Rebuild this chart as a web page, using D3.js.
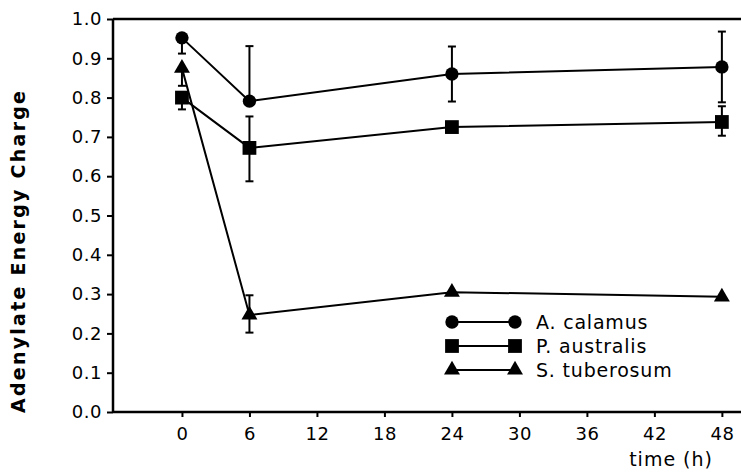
<!DOCTYPE html>
<html>
<head>
<script src="https://cdn.jsdelivr.net/npm/d3@7"></script>
<style>
html, body { margin: 0; padding: 0; background: #fff; }
#chart { width: 741px; height: 474px; }
text { font-family: "DejaVu Sans", sans-serif; fill: #000; }
</style>
</head>
<body>
<div id="chart"></div>
<script>
// time points (h)
var times = [0, 6, 24, 48];
var xTicks = [0, 6, 12, 18, 24, 30, 36, 42, 48];
var yTicks = [0, 0.1, 0.2, 0.3, 0.4, 0.5, 0.6, 0.7, 0.8, 0.9, 1.0];

// series values
var calamus = [0.952, 0.791, 0.860, 0.878];
var australis = [0.800, 0.672, 0.725, 0.738];
var tuberosum = [0.875, 0.247, 0.305, 0.293];

// error bars (up / down)
var calamusUp = [0, 0.14, 0.07, 0.09];
var calamusDown = [0.04, 0, 0.07, 0.09];
var australisUp = [0, 0.08, 0, 0.04];
var australisDown = [0.03, 0.085, 0, 0.035];
var tuberosumUp = [0, 0.05, 0, 0];
var tuberosumDown = [0.045, 0.045, 0, 0];

var seriesNames = ["A. calamus", "P. australis", "S. tuberosum"];

var width = 741, height = 474;
var margin = {left: 113, top: 19, right: 0, bottom: 62};
var plotW = width - margin.left - margin.right;
var plotH = height - margin.top - margin.bottom;

var svg = d3.select("#chart").append("svg")
    .attr("width", width)
    .attr("height", height);

var g = svg.append("g").attr("transform", "translate(" + [margin.left, margin.top] + ")");

var x = d3.scaleLinear().domain([-6.13, 49.7]).range([0, plotW]);
var y = d3.scaleLinear().domain([0, 1]).range([plotH, 0]);

// axes
var yAxis = d3.axisLeft(y).tickValues(yTicks).tickFormat(d3.format(".1f")).tickSize(6).tickPadding(5);
var xAxis = d3.axisBottom(x).tickValues(xTicks).tickFormat(d3.format("d")).tickSize(5).tickPadding(10);

var ya = g.append("g").call(yAxis);
var xa = g.append("g").attr("transform", "translate(0," + plotH + ")").call(xAxis);
[ya, xa].forEach(function(a){
    a.select(".domain").remove();
    a.selectAll(".tick line").attr("stroke", "#000").attr("stroke-width", 2);
    a.selectAll(".tick text").style("font-size", "18px").style("letter-spacing", "0.5px");
});

// frame: left, bottom, top
g.append("line").attr("x1", 0).attr("x2", 0).attr("y1", 0).attr("y2", plotH)
    .attr("stroke", "#000").attr("stroke-width", 2.5);
g.append("line").attr("x1", 0).attr("x2", plotW).attr("y1", plotH).attr("y2", plotH)
    .attr("stroke", "#000").attr("stroke-width", 2.5);
g.append("line").attr("x1", 0).attr("x2", plotW).attr("y1", 0).attr("y2", 0)
    .attr("stroke", "#000").attr("stroke-width", 2.5);

// labels
svg.append("text")
    .attr("transform", "translate(25,252) rotate(-90)")
    .attr("text-anchor", "middle")
    .attr("textLength", 322)
    .attr("lengthAdjust", "spacing")
    .style("font-size", "19px")
    .style("font-weight", "bold")
    .text("Adenylate Energy Charge");

svg.append("text")
    .attr("x", 713).attr("y", 466)
    .attr("text-anchor", "end")
    .style("font-size", "19px")
    .style("letter-spacing", "1px")
    .text("time (h)");

var series = [
    {name: seriesNames[0], vals: calamus, up: calamusUp, down: calamusDown, sym: d3.symbolCircle, size: 140},
    {name: seriesNames[1], vals: australis, up: australisUp, down: australisDown, sym: d3.symbolSquare, size: 190},
    {name: seriesNames[2], vals: tuberosum, up: tuberosumUp, down: tuberosumDown, sym: d3.symbolTriangle, size: 110}
];

var line = d3.line()
    .x(function(d){ return x(d.t); })
    .y(function(d){ return y(d.v); });

series.forEach(function(s){
    var pts = times.map(function(t, i){ return {t: t, v: s.vals[i], up: s.up[i], down: s.down[i]}; });

    g.append("path").datum(pts)
        .attr("d", line)
        .attr("fill", "none")
        .attr("stroke", "#000")
        .attr("stroke-width", 2);

    // error bars
    var eb = g.append("g");
    pts.forEach(function(p){
        [["up", 1], ["down", -1]].forEach(function(k){
            var e = p[k[0]];
            if (!e) return;
            var yEnd = y(p.v + k[1] * e);
            eb.append("line")
                .attr("x1", x(p.t)).attr("x2", x(p.t))
                .attr("y1", y(p.v)).attr("y2", yEnd)
                .attr("stroke", "#000").attr("stroke-width", 2);
            eb.append("line")
                .attr("x1", x(p.t) - 4).attr("x2", x(p.t) + 4)
                .attr("y1", yEnd).attr("y2", yEnd)
                .attr("stroke", "#000").attr("stroke-width", 2);
        });
    });

    g.selectAll(null).data(pts).enter().append("path")
        .attr("d", d3.symbol().type(s.sym).size(s.size))
        .attr("transform", function(d){ return "translate(" + [x(d.t), y(d.v)] + ")"; })
        .attr("fill", "#000");
});

// legend
var legend = svg.append("g").attr("transform", "translate(452,322)");
series.forEach(function(s, i){
    var row = legend.append("g").attr("transform", "translate(0," + (i * 24) + ")");
    row.append("line").attr("x1", 0).attr("x2", 63).attr("y1", 0).attr("y2", 0)
        .attr("stroke", "#000").attr("stroke-width", 2);
    [0, 63].forEach(function(px){
        row.append("path")
            .attr("d", d3.symbol().type(s.sym).size(s.size))
            .attr("transform", "translate(" + px + ",0)")
            .attr("fill", "#000");
    });
    row.append("text").attr("x", 84).attr("y", 7)
        .style("font-size", "19px")
        .style("letter-spacing", "0.8px")
        .text(s.name);
});
</script>
</body>
</html>
